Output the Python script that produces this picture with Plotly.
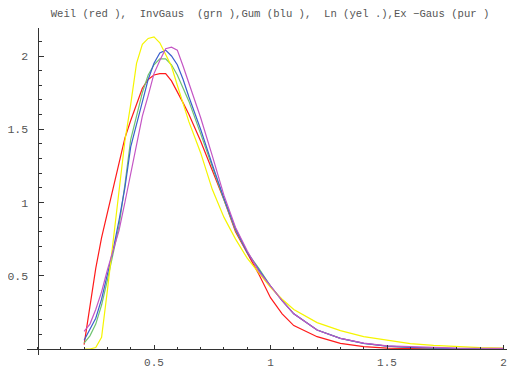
import plotly.graph_objects as go

x_vals = [0.2, 0.225, 0.25, 0.275, 0.3, 0.325, 0.35, 0.375, 0.4, 0.425, 0.45, 0.475,
          0.5, 0.525, 0.55, 0.575, 0.6, 0.625, 0.65, 0.7, 0.75, 0.8, 0.85, 0.9, 0.95,
          1.0, 1.05, 1.1, 1.2, 1.3, 1.4, 1.5, 1.6, 1.7, 1.8, 1.9, 2.0]

weibull = [0.03, 0.30, 0.55, 0.76, 0.93, 1.09, 1.27, 1.44, 1.56, 1.67, 1.78, 1.84,
           1.87, 1.88, 1.88, 1.83, 1.76, 1.68, 1.60, 1.42, 1.22, 1.02, 0.80, 0.66, 0.51,
           0.35, 0.24, 0.16, 0.084, 0.039, 0.016, 0.006, 0.002, 0.001, 0.0, 0.0, 0.0]

invgauss = [0.04, 0.09, 0.17, 0.30, 0.47, 0.65, 0.84, 1.12, 1.43, 1.59, 1.75, 1.87,
            1.94, 1.98, 1.98, 1.94, 1.87, 1.78, 1.69, 1.47, 1.24, 1.02, 0.81, 0.66, 0.55,
            0.43, 0.33, 0.24, 0.13, 0.073, 0.039, 0.02, 0.011, 0.006, 0.003, 0.002, 0.001]

gumbel = [0.06, 0.13, 0.21, 0.34, 0.50, 0.68, 0.88, 1.10, 1.38, 1.54, 1.70, 1.84,
          1.95, 2.02, 2.04, 2.00, 1.94, 1.84, 1.72, 1.50, 1.26, 1.03, 0.82, 0.66, 0.54,
          0.43, 0.33, 0.24, 0.13, 0.073, 0.039, 0.02, 0.011, 0.006, 0.003, 0.002, 0.001]

lognormal = [0.0, 0.0, 0.01, 0.08, 0.40, 0.75, 1.10, 1.42, 1.67, 1.95, 2.08, 2.12,
             2.13, 2.09, 2.01, 1.93, 1.80, 1.67, 1.55, 1.34, 1.09, 0.90, 0.75, 0.62, 0.52,
             0.42, 0.34, 0.27, 0.18, 0.125, 0.084, 0.06, 0.037, 0.025, 0.015, 0.009, 0.006]

exgauss = [0.12, 0.17, 0.27, 0.39, 0.54, 0.68, 0.81, 1.00, 1.20, 1.40, 1.59, 1.73,
           1.88, 1.97, 2.05, 2.06, 2.04, 1.93, 1.81, 1.58, 1.32, 1.05, 0.83, 0.67, 0.53,
           0.43, 0.33, 0.24, 0.13, 0.072, 0.04, 0.022, 0.016, 0.01, 0.006, 0.005, 0.004]

x_tickvals = [0.5, 1, 1.5, 2]
x_ticktext = ["0.5", "1", "1.5", "2"]
y_tickvals = [0.5, 1, 1.5, 2]
y_ticktext = ["0.5", "1", "1.5", "2"]

title_text = "Weil (red ),  InvGaus  (grn ),Gum (blu ),  Ln (yel .),Ex \u2212Gaus (pur )"

series = [
    ("Weil", weibull, "#ff1a1a"),
    ("InvGaus", invgauss, "#70c470"),
    ("Gum", gumbel, "#3a5fcd"),
    ("Ln", lognormal, "#f5f500"),
    ("Ex-Gaus", exgauss, "#c455c4"),
]

fig = go.Figure()
for name, ys, col in series:
    fig.add_trace(go.Scatter(x=x_vals, y=ys, mode="lines", name=name,
                             line=dict(color=col, width=1.2), showlegend=False))

# the page body adds an 8px offset; compensate so the plot lands where the reference has it
OFF = 8
W, H = 515 - OFF, 370 - OFF
ml, mr, mt, mb = 27 - OFF, 5, 28 - OFF, 15
x_scale = 233.0
y_scale = 146.5
x0_px = 37.5 - OFF
y0_px = 349.0 - OFF
pw = W - ml - mr
ph = H - mt - mb
xmin = -(x0_px - ml) / x_scale
xmax = xmin + pw / x_scale
ymin = -((H - mb) - y0_px) / y_scale
ymax = ymin + ph / y_scale

fam = "Liberation Mono, Courier New, monospace"
font = dict(family=fam, size=11.5, color="#555555")

fig.update_layout(
    width=W, height=H,
    margin=dict(l=ml, r=mr, t=mt, b=mb, autoexpand=False),
    paper_bgcolor="white", plot_bgcolor="white",
    font=font,
    title=dict(text=title_text.replace(" ", "\u00a0"), x=(270 - OFF) / W, xanchor="center",
               xref="container", yref="container",
               y=1 - (13.5 - OFF) / H, yanchor="middle",
               font=dict(family=fam, size=10.6, color="#555555")),
    xaxis=dict(range=[xmin, xmax], showgrid=False, zeroline=False, automargin=False,
               showline=True, linecolor="#333333", linewidth=1,
               anchor="free", position=((H - mb) - y0_px) / ph,
               tickmode="array", tickvals=x_tickvals, ticktext=x_ticktext,
               ticks="inside", ticklen=4, tickcolor="#333333", tickwidth=1,
               ticklabelstandoff=3, tickfont=dict(family=fam, size=11, color="#555555"),
               minor=dict(ticks="inside", ticklen=2, dtick=0.1, tick0=0, tickcolor="#333333")),
    yaxis=dict(range=[ymin, ymax], showgrid=False, zeroline=False, automargin=False,
               showline=True, linecolor="#333333", linewidth=1,
               anchor="free", position=(x0_px - ml) / pw,
               tickmode="array", tickvals=y_tickvals, ticktext=y_ticktext,
               ticks="inside", ticklen=5, tickcolor="#333333", tickwidth=1,
               ticklabelstandoff=7,
               minor=dict(ticks="inside", ticklen=3, dtick=0.1, tick0=0, tickcolor="#333333")),
)

fig.write_html("out.html")
